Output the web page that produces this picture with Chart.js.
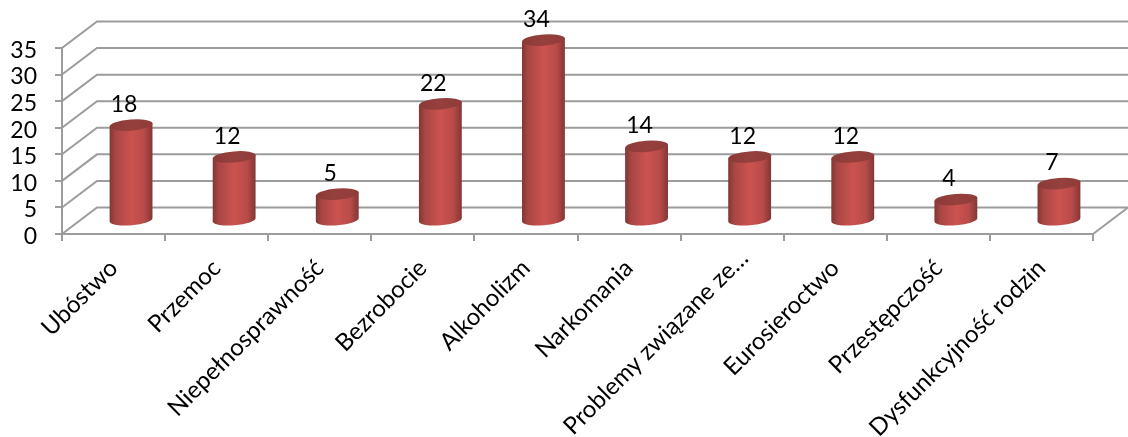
<!DOCTYPE html>
<html><head><meta charset="utf-8">
<style>html,body{margin:0;padding:0;background:#fff;overflow:hidden}canvas{display:block}</style>
<script src="https://cdn.jsdelivr.net/npm/chart.js@4"></script></head>
<body><canvas id="c" width="1128" height="437"></canvas>
<script>
const categories = ["Ubóstwo","Przemoc","Niepełnosprawność","Bezrobocie","Alkoholizm","Narkomania","Problemy związane ze…","Eurosieroctwo","Przestępczość","Dysfunkcyjność rodzin"];
const values = [18,12,5,22,34,14,12,12,4,7];
const yTicks = [0,5,10,15,20,25,30,35];
const FONT = 'Lato, "Open Sans", sans-serif';
const GRID = '#9c9c9c';
const DEPTH_X = 35, DEPTH_Y = 26.5;

const frame3d = {
  id:'frame3d',
  beforeDraw(chart){
    // the truncated label sits further along its slant than the others
    const item = chart.scales.x.getLabelItems()[6];
    if(item && !item.moved){
      item.options.translation = [item.options.translation[0]+12, item.options.translation[1]-10];
      item.moved = true;
    }
  },
  beforeDatasetsDraw(chart){
    const {ctx,scales:{x,y}} = chart;
    const L=x.left,R=x.right;
    ctx.save();
    ctx.strokeStyle=GRID; ctx.lineWidth=2; ctx.lineJoin='miter';
    yTicks.forEach(v=>{
      const p=y.getPixelForValue(v);
      ctx.beginPath();
      ctx.moveTo(L,p);
      ctx.lineTo(L+DEPTH_X,p-DEPTH_Y);
      ctx.lineTo(R+DEPTH_X,p-DEPTH_Y);
      ctx.stroke();
    });
    const b=y.getPixelForValue(0);
    ctx.beginPath();ctx.moveTo(R,b);ctx.lineTo(R+DEPTH_X,b-DEPTH_Y);ctx.stroke();
    ctx.restore();
  }
};
const cylinders = {
  id:'cylinders',
  afterDatasetsDraw(chart){
    const {ctx}=chart, meta=chart.getDatasetMeta(0);
    const rot=-0.08, ry=5.6;
    meta.data.forEach((el,i)=>{
      const cx=el.x+DEPTH_X/2, rx=el.width/2;
      const topY=el.y-DEPTH_Y/2, botY=el.base-DEPTH_Y/2;
      const dx=rx*Math.cos(rot), dy=rx*Math.sin(rot);
      const g=ctx.createLinearGradient(cx-rx,0,cx+rx,0);
      g.addColorStop(0,'#823634');g.addColorStop(0.14,'#a84644');
      g.addColorStop(0.5,'#cb5350');g.addColorStop(0.8,'#b94b49');
      g.addColorStop(0.95,'#8f3c3a');g.addColorStop(1,'#823634');
      ctx.save();
      ctx.fillStyle=g;
      ctx.beginPath();
      ctx.moveTo(cx-dx,topY-dy);
      ctx.ellipse(cx,botY,rx,ry,rot,Math.PI,0,true);
      ctx.lineTo(cx+dx,topY+dy);
      ctx.closePath();ctx.fill();
      const t=ctx.createLinearGradient(cx-rx,0,cx+rx,0);
      t.addColorStop(0,'#8a3a38');t.addColorStop(0.5,'#96403d');t.addColorStop(1,'#8e3c3a');
      ctx.fillStyle=t;
      ctx.beginPath();
      ctx.ellipse(cx,topY,rx,ry,rot,0,Math.PI*2);
      ctx.fill();
      ctx.fillStyle='#000';
      ctx.font='23px '+FONT;
      ctx.textAlign='center';ctx.textBaseline='middle';
      ctx.fillText(String(values[i]),cx-7,topY-20.5);
      ctx.restore();
    });
  }
};
new Chart(document.getElementById('c'),{
  type:'bar',
  data:{labels:categories,datasets:[{data:values,backgroundColor:'rgba(0,0,0,0)',borderWidth:0,categoryPercentage:1,barPercentage:0.417}]},
  plugins:[frame3d,cylinders],
  options:{
    responsive:false,animation:false,
    layout:{padding:{top:48,right:35,left:0,bottom:0}},
    plugins:{legend:{display:false},tooltip:{enabled:false},title:{display:false}},
    scales:{
      x:{
        afterFit(s){s.height=437-234;},
        grid:{drawOnChartArea:false,drawTicks:true,tickLength:7,color:GRID,lineWidth:2},
        border:{color:GRID,width:2},
        ticks:{autoSkip:false,minRotation:45,maxRotation:45,color:'#000',font:{family:FONT,size:24},padding:13}
      },
      y:{
        min:0,max:35,
        afterFit(s){s.width=62;},
        grid:{drawOnChartArea:false,drawTicks:true,tickLength:7,color:GRID,lineWidth:2},
        border:{color:GRID,width:2},
        ticks:{stepSize:5,autoSkip:false,color:'#000',font:{family:FONT,size:23},padding:18,labelOffset:2.5}
      }
    }
  }
});
</script></body></html>
